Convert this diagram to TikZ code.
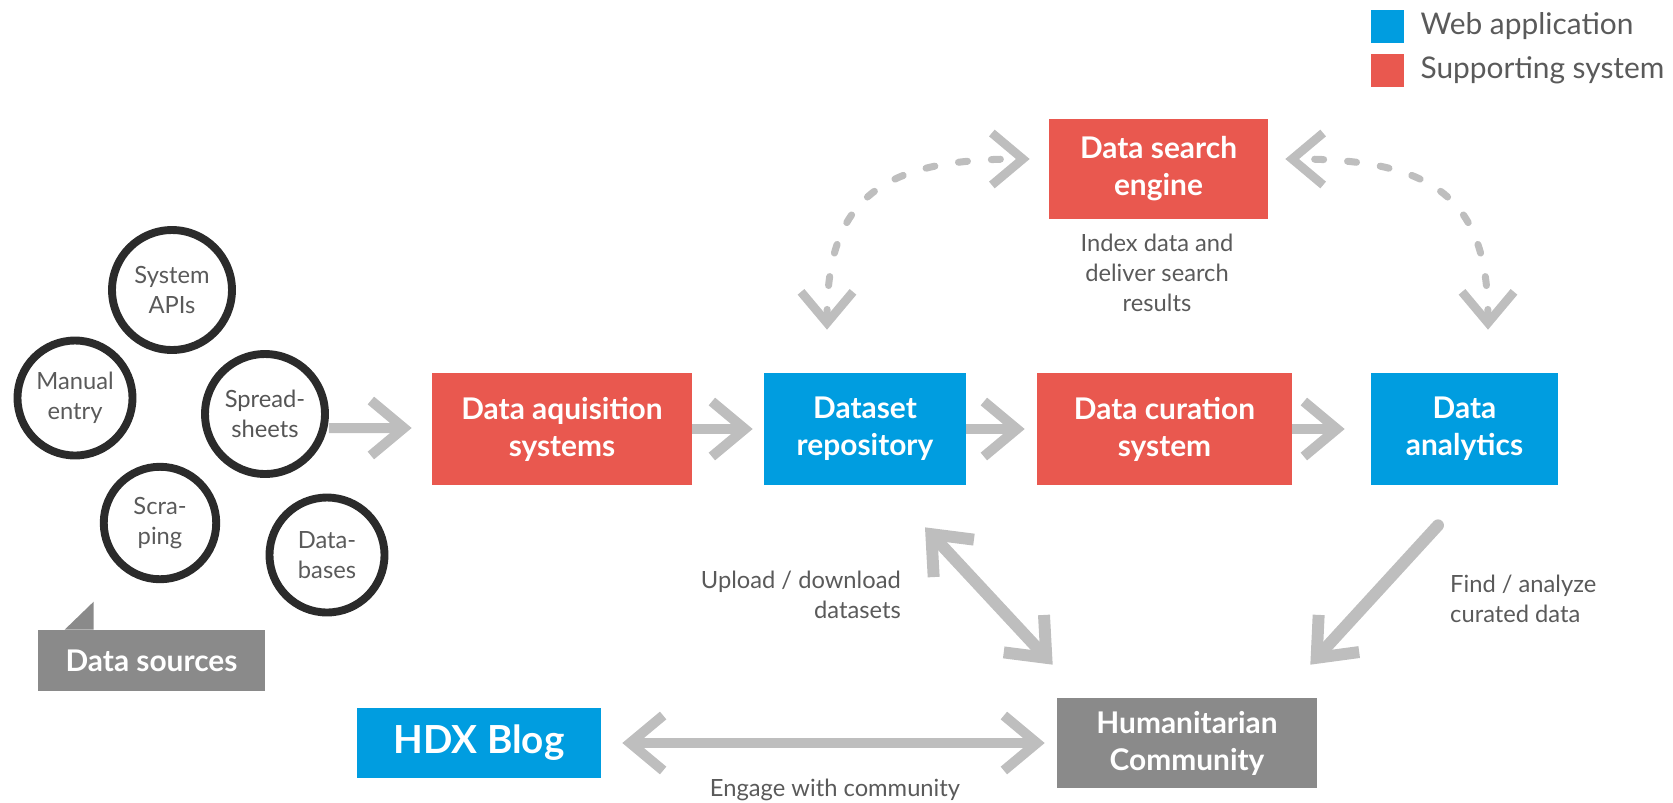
\documentclass[tikz,border=0pt]{standalone}
\usepackage{fontspec}
\setmainfont{Lato}
\usetikzlibrary{arrows.meta}
\definecolor{webblue}{RGB}{0,157,224}
\definecolor{supred}{RGB}{233,88,79}
\definecolor{commgray}{RGB}{138,138,138}
\definecolor{arrowgray}{RGB}{190,190,190}
\definecolor{ringgray}{RGB}{43,43,43}
\definecolor{notegray}{RGB}{90,90,90}
\begin{document}
\begin{tikzpicture}[x=0.02cm,y=-0.02cm,
    tipbarb/.tip={Straight Barb[length=0.66cm,width=1.1cm]},
    box/.style={rectangle,inner sep=0pt,text=white,align=center,
      font=\bfseries\fontsize{17}{21}\selectfont},
    webapp/.style={box,fill=webblue},
    support/.style={box,fill=supred},
    source/.style={circle,draw=ringgray,line width=4.5pt,minimum size=2.4cm,
      inner sep=0pt,align=center,text=notegray,font=\fontsize{13.5}{17}\selectfont},
    note/.style={text=notegray,font=\fontsize{13.5}{17}\selectfont},
    flow/.style={draw=arrowgray,line width=5.7pt,-tipbarb},
    dashflow/.style={draw=arrowgray,line width=4pt,line cap=round,
      dash pattern=on 0.18cm off 0.48cm,
      {Straight Barb[length=0.62cm,width=1.04cm,line width=5pt]}-{Straight Barb[length=0.62cm,width=1.04cm,line width=5pt]}}]
  \useasboundingbox (0,0) rectangle (1673,802);

  % legend
  \node[fill=webblue,minimum size=0.66cm,inner sep=0pt] (legweb) at (1387.5,26.5) {};
  \node[fill=supred,minimum size=0.66cm,inner sep=0pt] (legsup) at (1387.5,70.5) {};
  \node[anchor=west,text=notegray,font=\fontsize{17}{20}\selectfont] at ([xshift=0.2cm]legweb.east) {Web application};
  \node[anchor=west,text=notegray,font=\fontsize{17}{20}\selectfont] at ([xshift=0.2cm]legsup.east) {Supporting system};

  % data sources
  \node[source] (sysapi) at (172,290) {System\\APIs};
  \node[source,minimum size=2.3cm] (manual) at (75,398) {Manual\\entry};
  \node[source,text=ringgray!80] (spread) at (265,414) {Spread-\\sheets};
  \node[source,minimum size=2.25cm] (scrap) at (160,523) {Scra-\\ping};
  \node[source,minimum size=2.3cm] (dbases) at (327,555) {Data-\\bases};
  \node[box,fill=commgray,minimum width=4.54cm,minimum height=1.22cm] (srclabel) at (151.5,660.5) {Data sources};
  \fill[commgray] ([xshift=0.54cm]srclabel.north west) -- ([xshift=1.12cm,yshift=0.56cm]srclabel.north west)
    -- ([xshift=1.12cm]srclabel.north west) -- cycle;

  % systems
  \node[support,minimum width=5.2cm,minimum height=2.24cm] (acq) at (562,429) {Data aquisition\\systems};
  \node[webapp,minimum width=4.04cm,minimum height=2.24cm] (dataset) at (865,429) {Dataset\\repository};
  \node[support,minimum width=5.1cm,minimum height=2.24cm] (curation) at (1164.5,429) {Data curation\\system};
  \node[webapp,minimum width=3.74cm,minimum height=2.24cm] (analytics) at (1464.5,429) {Data\\analytics};
  \node[support,minimum width=4.38cm,minimum height=2.0cm] (search) at (1158.5,169) {Data search\\engine};
  \node[webapp,minimum width=4.88cm,minimum height=1.4cm,font=\bfseries\fontsize{22}{26}\selectfont] (hdx) at (479,743) {HDX Blog};
  \node[box,fill=commgray,minimum width=5.2cm,minimum height=1.8cm] (human) at (1187,743) {Humanitarian\\Community};

  % notes
  \node[note,align=center] (searchnote) at (1157,273) {Index data and\\deliver search\\results};
  \node[note,align=right,anchor=east] (updnote) at (907,595) {Upload / download\\datasets};
  \node[note,align=left,anchor=west] (findnote) at (1444,599) {Find / analyze\\curated data};
  \node[note] (engnote) at (835,790) {Engage with community};

  \begin{scope}[flow]
    \draw ([yshift=-0.28cm]spread.east) to ([xshift=-0.4cm,yshift=0.02cm]acq.west);
    \draw (acq) to ([xshift=-0.22cm]dataset.west);
    \draw (dataset) to ([xshift=-0.24cm]curation.west);
    \draw (curation) to ([xshift=-0.52cm]analytics.west);
    \draw[tipbarb-tipbarb] ([xshift=0.42cm]hdx.east) to ([xshift=-0.24cm]human.west);
    \draw[tipbarb-tipbarb,line width=6.8pt] ([shift={(1.2cm,-0.84cm)}]dataset.south) to ([shift={(-0.08cm,0.66cm)}]human.north west);
    \draw[line width=6.8pt,line cap=round] ([shift={(-0.53cm,-0.8cm)}]analytics.south) to ([shift={(-0.14cm,0.66cm)}]human.north east);
  \end{scope}
  \begin{scope}[dashflow]
    \draw ([shift={(-0.76cm,0.86cm)}]dataset.north) .. controls +(0,2.6cm) and +(-3cm,0) .. ([shift={(-0.38cm,0.2cm)}]search.west);
    \draw ([shift={(0.47cm,0.86cm)}]analytics.north) .. controls +(0,2.6cm) and +(3cm,0) .. ([shift={(0.34cm,0.2cm)}]search.east);
  \end{scope}
\end{tikzpicture}
\end{document}
